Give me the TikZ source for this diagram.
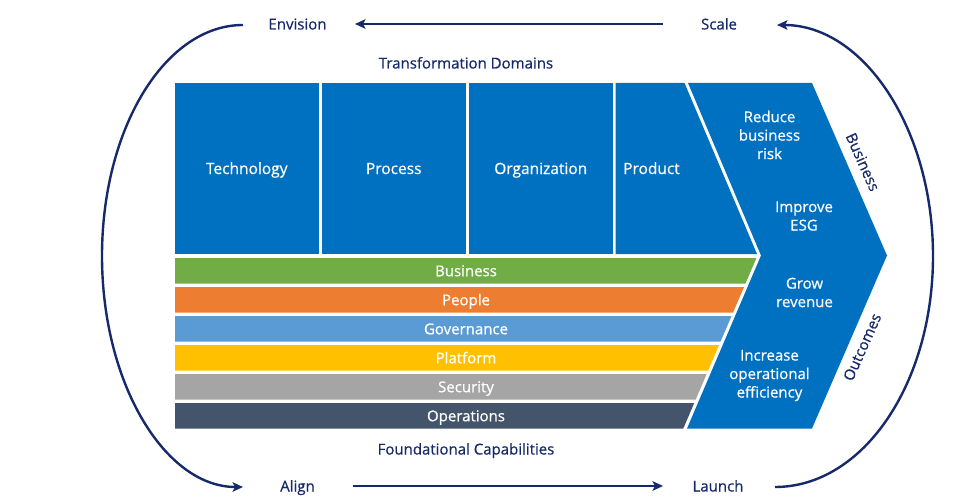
\documentclass[tikz,border=0pt]{standalone}
\usepackage{fontspec}
\setmainfont{Open Sans}[FakeBold=0.6]
\usetikzlibrary{arrows.meta}

\definecolor{navy}{HTML}{16296B}
\definecolor{domainblue}{HTML}{0070C0}
\definecolor{capgreen}{HTML}{70AD47}
\definecolor{caporange}{HTML}{ED7D31}
\definecolor{caplblue}{HTML}{5B9BD5}
\definecolor{capgold}{HTML}{FFC000}
\definecolor{capgray}{HTML}{A5A5A5}
\definecolor{capslate}{HTML}{44546A}

\begin{document}
\begin{tikzpicture}[x=1pt,y=-1pt,
  font=\fontsize{15}{18.5}\selectfont,
  lbl/.style={text height=11pt, text depth=0pt, inner sep=0pt},
  cyclelbl/.style={lbl, text=navy},
  domainbox/.style={lbl, fill=domainblue, text=white, minimum width=143.5pt, minimum height=171pt,
    font=\fontsize{15.5}{18.5}\selectfont},
  bandtext/.style={lbl, text=white},
  outcome/.style={align=center, text=white, inner sep=0pt},
  sidelbl/.style={lbl, text=navy},
  cyclearc/.style={draw=navy, line width=2.4pt},
  cyclearrow/.style={cyclearc, -{Stealth[length=10.5pt,width=9.5pt,inset=2.5pt]}}]
\useasboundingbox (0,0) rectangle (969,500);

% cycle stage labels
\node[cyclelbl] (envision) at (297.5,24) {Envision};
\node[cyclelbl] (scale)    at (719,24)   {Scale};
\node[cyclelbl] (align)    at (297.5,486) {Align};
\node[cyclelbl] (launch)   at (718,486)  {Launch};

% section titles
\node[cyclelbl] (tdom) at (466,63)  {Transformation Domains};
\node[cyclelbl] (fcap) at (466,449) {Foundational Capabilities};

% transformation domains
\node[domainbox] (tech) at (246.75,168.5) {Technology};
\node[domainbox] (proc) at (393.75,168.5) {Process};
\node[domainbox] (org)  at (540.75,168.5) {Organization};
\fill[domainblue] (615.5,83) -- (684.5,83) -- (757,254) -- (615.5,254) -- cycle;
\node[bandtext, font=\fontsize{15.5}{18.5}\selectfont] (prod) at (651.5,168.5) {Product};

% foundational capability bands
\foreach \name/\col/\txt [count=\i from 0] in
  {cbus/capgreen/Business, cpeo/caporange/People, cgov/caplblue/Governance,
   cplat/capgold/Platform, csec/capgray/Security, cops/capslate/Operations}{
  \pgfmathsetmacro\yt{258+29*\i}
  \pgfmathsetmacro\yb{\yt+25.5}
  \pgfmathsetmacro\xt{757.5-0.429*(\yt-255.5)}
  \pgfmathsetmacro\xb{757.5-0.429*(\yb-255.5)}
  \fill[\col] (175,\yt) -- (\xt,\yt) -- (\xb,\yb) -- (175,\yb) -- cycle;
  \node[bandtext] (\name) at (466,{(\yt+\yb)/2}) {\txt};
}

% business outcomes chevron
\fill[domainblue] (688,83) -- (812,83) -- (887,255.5) -- (812,428.5)
  -- (687,428.5) -- (761,255.5) -- cycle;
\node[outcome] (risk)   at (769.5,135)   {Reduce\\business\\risk};
\node[outcome] (esg)    at (804,216)     {Improve\\ESG};
\node[outcome] (grow)   at (804.5,292.5) {Grow\\revenue};
\node[outcome] (effic)  at (769.5,375.5) {Increase\\operational\\efficiency};
\node[sidelbl, rotate=-66] (obus) at (863,162) {Business};
\node[sidelbl, rotate=66]  (oout) at (862,347) {Outcomes};

% cycle connectors
\coordinate (topstart) at (663,24);
\coordinate (topend)   at (355,24);
\coordinate (botstart) at (353,486);
\coordinate (botend)   at (663,486);
\coordinate (ltop)  at (243,25);
\coordinate (lbot)  at (243,487);
\coordinate (rbot)  at (775,487);
\coordinate (rtop)  at (777,25);

\draw[cyclearrow] (topstart) -- (topend);
\draw[cyclearrow] (botstart) -- (botend);
\draw[cyclearrow] (ltop) .. controls (165.1,25) and (102,128.4) .. (102,256)
  .. controls (102,383.6) and (165.1,487) .. (lbot);
\draw[cyclearrow] (rbot) .. controls (863.2,487) and (933,383.6) .. (933,256)
  .. controls (933,128.4) and (863.2,25) .. (rtop);
\end{tikzpicture}
\end{document}
